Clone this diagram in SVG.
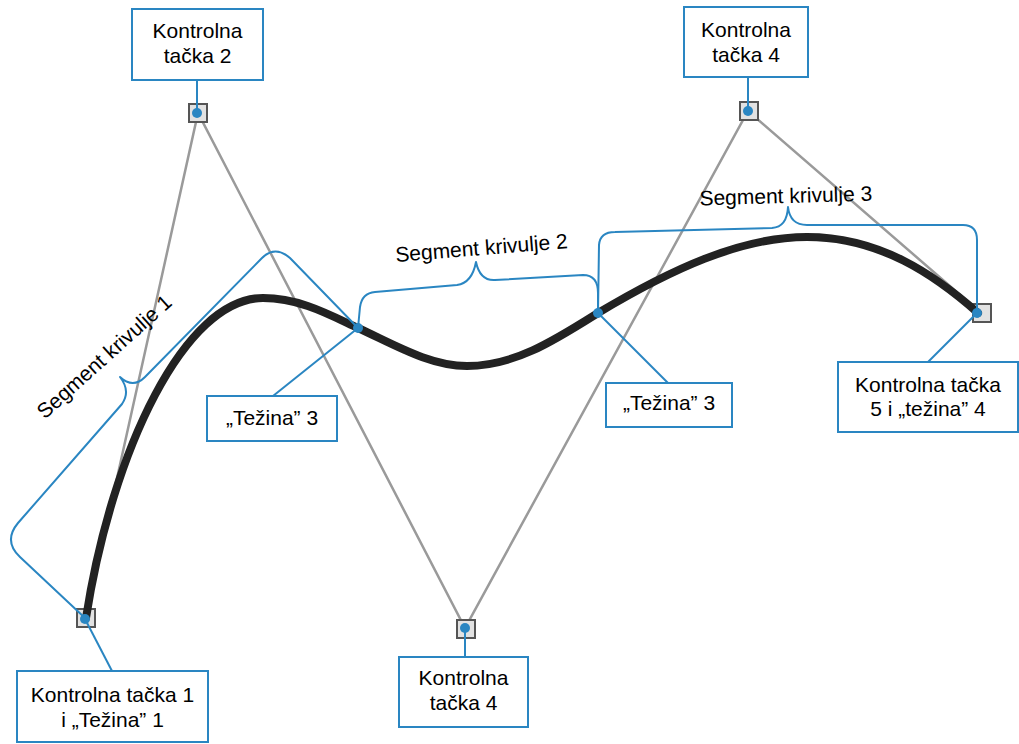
<svg xmlns="http://www.w3.org/2000/svg" width="1019" height="744" viewBox="0 0 1019 744">
<style>
.t{font-family:"Liberation Sans",Arial,sans-serif;font-size:21px;fill:#000;text-anchor:middle}
.box{fill:#fff;stroke:#2a86c2;stroke-width:2}
.ln{fill:none;stroke:#2a86c2;stroke-width:2}
.br{fill:none;stroke:#2a86c2;stroke-width:2;stroke-linejoin:round}
.g{fill:none;stroke:#9a9a9a;stroke-width:2.5}
.sq{fill:#e2e2e2;stroke:#555;stroke-width:2}
.dot{fill:#2a86c2}
</style>
<rect width="1019" height="744" fill="#fff"/>
<g id="polygon">
<polyline class="g" points="86,618 198,113 465,628 748,111 981,313"/>
</g>
<g id="squares">
<rect class="sq" x="77" y="609" width="18" height="18"/>
<rect class="sq" x="189" y="104" width="18" height="18"/>
<rect class="sq" x="740" y="102" width="18" height="18"/>
<rect class="sq" x="457" y="620" width="18" height="18"/>
<rect class="sq" x="973" y="304" width="18" height="18"/>
</g>
<g id="curve">
<path d="M86,618 C112,450 185,298 263,298 C300,298 330,315 358,328 C395,345 430,366 467,366 C515,366 555,340 598,313 C670,270 740,237 807,237 C880,237 935,275 978,313" fill="none" stroke="#222" stroke-width="8" stroke-linecap="round"/>
</g>
<g id="braces">
<path class="br" d="M85,618 L20,557 Q3,541 18,523 L122,404 Q131,391 120,377 Q133,389 145,377 L262,258 Q275,245 290,258 L358,328"/>
<path class="br" d="M358,328 L360,307 Q362,293 375,292 L457,285 Q472,283 476,262 Q480,281 495,280 L583,275 Q598,275 598,293 L598,313"/>
<path class="br" d="M598,313 L599,245 Q600,232 615,232 L772,228 Q787,227 788,207 Q790,225 807,225 L963,225 Q977,225 977,240 L977,313"/>
</g>
<g id="connectors">
<line class="ln" x1="197" y1="80" x2="197" y2="113"/>
<line class="ln" x1="748" y1="77" x2="748" y2="111"/>
<line class="ln" x1="465" y1="628" x2="465" y2="657"/>
<line class="ln" x1="85" y1="619" x2="112" y2="671"/>
<line class="ln" x1="358" y1="328" x2="273" y2="396"/>
<line class="ln" x1="598" y1="313" x2="668" y2="383"/>
<line class="ln" x1="977" y1="313" x2="928" y2="362"/>
</g>
<g id="dots">
<circle class="dot" cx="85" cy="619" r="5"/>
<circle class="dot" cx="197" cy="113" r="5"/>
<circle class="dot" cx="748" cy="111" r="5"/>
<circle class="dot" cx="465" cy="628" r="5"/>
<circle class="dot" cx="977" cy="313" r="5"/>
<circle class="dot" cx="358" cy="328" r="5"/>
<circle class="dot" cx="598" cy="313" r="5"/>
</g>
<g id="seg1"><text class="t" transform="translate(109,362) rotate(-42)">Segment krivulje 1</text></g>
<g id="seg2"><text class="t" transform="translate(482,255) rotate(-4.6)">Segment krivulje 2</text></g>
<g id="seg3"><text class="t" transform="translate(786,203) rotate(-1.6)">Segment krivulje 3</text></g>
<g id="n-cp2">
<rect class="box" x="132" y="9" width="131" height="71"/>
<text class="t" x="197.5" y="38">Kontrolna</text>
<text class="t" x="197.5" y="63">tačka 2</text>
</g>
<g id="n-cp4top">
<rect class="box" x="684" y="7" width="124" height="70"/>
<text class="t" x="746" y="37">Kontrolna</text>
<text class="t" x="746" y="62">tačka 4</text>
</g>
<g id="n-cp4bottom">
<rect class="box" x="399" y="657" width="129" height="70"/>
<text class="t" x="463.5" y="685">Kontrolna</text>
<text class="t" x="463.5" y="710">tačka 4</text>
</g>
<g id="n-cp1">
<rect class="box" x="17" y="671" width="191" height="71"/>
<text class="t" x="112.5" y="702">Kontrolna tačka 1</text>
<text class="t" x="112.5" y="727">i „Težina” 1</text>
</g>
<g id="n-w3left">
<rect class="box" x="207" y="396" width="130" height="45"/>
<text class="t" x="272" y="425">„Težina” 3</text>
</g>
<g id="n-w3right">
<rect class="box" x="606" y="383" width="126" height="44"/>
<text class="t" x="669" y="410">„Težina” 3</text>
</g>
<g id="n-cp5">
<rect class="box" x="838" y="362" width="180" height="70"/>
<text class="t" x="928" y="392">Kontrolna tačka</text>
<text class="t" x="928" y="416">5 i „težina” 4</text>
</g>
</svg>
